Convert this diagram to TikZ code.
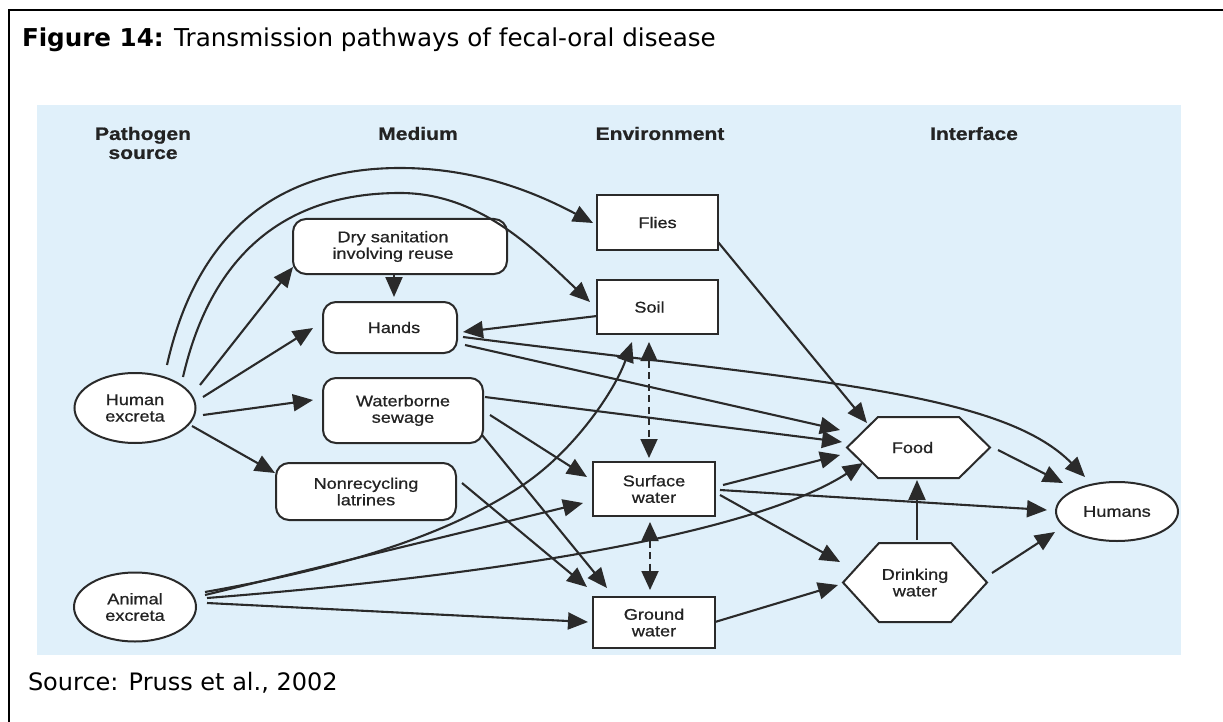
\documentclass[tikz,border=0pt]{standalone}
\usepackage{fontspec}
\setmainfont{Liberation Sans}
\newfontfamily\diagfont[FakeStretch=1.17, FakeBold=0.7]{Liberation Sans}
\newfontfamily\capfont{DejaVu Sans}
\usetikzlibrary{arrows.meta,shapes.geometric}
\definecolor{ink}{HTML}{232323}
\definecolor{edge}{HTML}{2A2A2A}
\definecolor{panel}{HTML}{E0F0FA}
\pgfdeclarelayer{back}
\pgfsetlayers{back,main}
\begin{document}
\begin{tikzpicture}[x=1pt,y=-1pt,
  every node/.style={inner sep=0pt, outer sep=0pt, text=ink},
  lbl/.style={font=\diagfont\fontsize{15.5}{16.5}\selectfont, align=center},
  hdr/.style={font=\diagfont\bfseries\fontsize{18}{19}\selectfont, align=center},
  rbox/.style={lbl, rectangle, draw=edge, line width=2pt, fill=white, rounded corners=13pt},
  sbox/.style={lbl, rectangle, draw=edge, line width=2pt, fill=white},
  oval/.style={lbl, ellipse, draw=edge, line width=2pt, fill=white},
  hexline/.style={draw=edge, line width=2pt, fill=white, line join=miter},
  conn/.style={draw=edge, line width=2.1pt, -{Triangle[length=20pt,width=17pt]}},
  dual/.style={draw=edge, line width=1.8pt, dash pattern=on 7pt off 4.5pt,
    {Triangle[length=19pt,width=17pt]}-{Triangle[length=19pt,width=17pt]}},
  capt/.style={font=\capfont\fontsize{24.6}{28}\selectfont, text=black, anchor=base west}
]
\useasboundingbox (0,0) rectangle (1223,722);

% caption and source line
\node[capt] (title) at (22,47) {\textbf{Figure 14:} Transmission pathways of fecal-oral disease};
\node[capt, font=\capfont\fontsize{24}{28}\selectfont] (source) at (28,690) {Source: Pruss et al., 2002};

% column headings
\node[hdr] (hpath) at (143,143) {Pathogen\\source};
\node[hdr] (hmed) at (418,133.5) {Medium};
\node[hdr] (henv) at (660,133.5) {Environment};
\node[hdr] (hint) at (974,133.5) {Interface};

% sources
\node[oval, minimum width=121pt, minimum height=70pt] (human) at (135,408) {Human\\excreta};
\node[oval, minimum width=122pt, minimum height=69pt] (animal) at (135,607) {Animal\\excreta};

% media
\node[rbox, minimum width=214pt, minimum height=55pt, text width=200pt] (dry) at (400,246.5) {\hspace*{-14pt}Dry sanitation\\\hspace*{-14pt}involving reuse};
\node[rbox, minimum width=134pt, minimum height=51pt] (hands) at (390,327.5) {\hspace*{8pt}Hands};
\node[rbox, minimum width=160pt, minimum height=65pt] (sewage) at (403,410.5) {Waterborne\\sewage};
\node[rbox, minimum width=180pt, minimum height=57pt] (latr) at (366,491.5) {Nonrecycling\\latrines};

% environment
\node[sbox, minimum width=121pt, minimum height=55pt] (flies) at (657.5,222.5) {Flies};
\node[sbox, minimum width=121pt, minimum height=54pt] (soil) at (657.5,307) {\hspace*{-16pt}Soil};
\node[sbox, minimum width=122pt, minimum height=54pt] (surf) at (654,489) {Surface\\water};
\node[sbox, minimum width=122pt, minimum height=51pt] (ground) at (654,622.5) {Ground\\water};

% interface and target
\node[lbl, minimum width=143pt, minimum height=61pt] (food) at (918.5,447.5) {\hspace*{-12pt}Food};
\node[lbl, minimum width=144pt, minimum height=79pt] (drink) at (915,582.5) {Drinking\\water};
\node[oval, minimum width=122pt, minimum height=59pt] (humans) at (1117,511.5) {Humans};

% waypoints of the curved pathways
\coordinate (topA) at (400,168);
\coordinate (topB) at (400,193);
\coordinate (bend) at (523,485);

\begin{pgfonlayer}{back}
  \fill[white] (0,0) rectangle (1223,722);
  \fill[panel] (37,105) rectangle (1181,655);
  \draw[line width=2pt, black] (9,722) -- (9,10) -- (1223,10);
  \filldraw[hexline] ([xshift=31pt]food.north west) -- ([xshift=-31pt]food.north east)
    -- (food.east) -- ([xshift=-31pt]food.south east) -- ([xshift=31pt]food.south west)
    -- (food.west) -- cycle;
  \filldraw[hexline] ([xshift=36pt]drink.north west) -- ([xshift=-36pt]drink.north east)
    -- (drink.east) -- ([xshift=-36pt]drink.south east) -- ([xshift=36pt]drink.south west)
    -- (drink.west) -- cycle;
\end{pgfonlayer}

% human excreta fan
\draw[conn] ([shift={(32,-43)}]human.center) .. controls (195,240) and (270,168) .. (topA)
  .. controls (480,168) and (540,195) .. ([shift={(-64.5,0.5)}]flies.center);
\draw[conn] ([shift={(48,-31)}]human.center) .. controls (210,260) and (280,193) .. (topB)
  .. controls (480,193) and (535,250) .. ([shift={(-67.5,-5)}]soil.center);
\draw[conn] ([shift={(65,-23)}]human.center) -- ([shift={(-107,20.5)}]dry.center);
\draw[conn] ([shift={(68,-11)}]human.center) -- ([shift={(-77,0.5)}]hands.center);
\draw[conn] ([shift={(68,7)}]human.center) -- ([shift={(-90,-10.5)}]sewage.center);
\draw[conn] ([shift={(57,18)}]human.center) -- ([shift={(-91,-18.5)}]latr.center);

% media onwards
\draw[conn] ([shift={(-6,27.5)}]dry.center) -- ([shift={(4,-30.5)}]hands.center);
\draw[conn] ([shift={(-60.5,9)}]soil.center) -- ([shift={(73,4.5)}]hands.center);
\draw[conn] ([shift={(73,9.5)}]hands.center) .. controls (800,380) and (1000,390)
  .. ([shift={(-32,-34.5)}]humans.center);
\draw[conn] ([shift={(75,17.5)}]hands.center) -- ([shift={(-78.5,-17.5)}]food.center);
\draw[conn] ([shift={(82,-13.5)}]sewage.center) -- ([shift={(-76.5,-5.5)}]food.center);
\draw[conn] ([shift={(87,4.5)}]sewage.center) -- ([shift={(-67,-12)}]surf.center);
\draw[conn] ([shift={(79,24.5)}]sewage.center) -- ([shift={(-47,-34.5)}]ground.center);
\draw[conn] ([shift={(96,-8.5)}]latr.center) -- ([shift={(-67,-35.5)}]ground.center);
\draw[conn] ([shift={(60.5,19.5)}]flies.center) -- ([shift={(-51.5,-24.5)}]food.center);

% animal excreta fan
\draw[conn] ([shift={(70,-15)}]animal.center) .. controls (330,570) and (440,540) .. (bend)
  .. controls (575,450) and (615,390) .. ([shift={(-25.5,35)}]soil.center);
\draw[conn] ([shift={(70,-12)}]animal.center) -- ([shift={(-71,14)}]surf.center);
\draw[conn] ([shift={(72,-9)}]animal.center) .. controls (548,571) and (766,526)
  .. ([shift={(-55.5,15.5)}]food.center);
\draw[conn] ([shift={(72,-4)}]animal.center) -- ([shift={(-66,-0.5)}]ground.center);

% exchanges between soil and waters
\draw[dual] ([shift={(-8.5,35)}]soil.center) -- ([shift={(-5,-31)}]surf.center);
\draw[dual] ([shift={(-4,33)}]surf.center) -- ([shift={(-4,-32.5)}]ground.center);

% waters to interface and humans
\draw[conn] ([shift={(69,-4)}]surf.center) -- ([shift={(-78.5,7.5)}]food.center);
\draw[conn] ([shift={(66,1)}]surf.center) -- ([shift={(-70,-1.5)}]humans.center);
\draw[conn] ([shift={(66,6)}]surf.center) -- ([shift={(-75,-20.5)}]drink.center);
\draw[conn] ([shift={(61,-0.5)}]ground.center) -- ([shift={(-77,2.5)}]drink.center);
\draw[conn] ([shift={(2,-42.5)}]drink.center) -- ([shift={(-1.5,32.5)}]food.center);
\draw[conn] ([shift={(79.5,2.5)}]food.center) -- ([shift={(-54,-28.5)}]humans.center);
\draw[conn] ([shift={(77,-9.5)}]drink.center) -- ([shift={(-62,20.5)}]humans.center);
\end{tikzpicture}
\end{document}
